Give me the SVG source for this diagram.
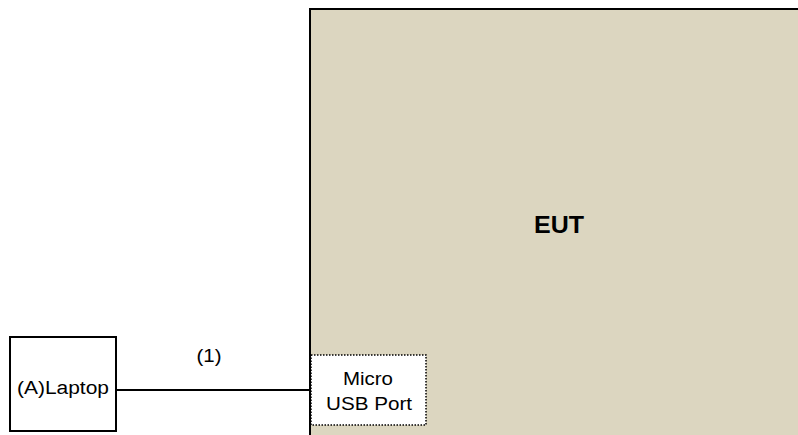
<svg xmlns="http://www.w3.org/2000/svg" width="798" height="435" viewBox="0 0 798 435">
<style>
text{font-family:"Liberation Sans",Arial,sans-serif;fill:#000;text-anchor:middle}
.lbl{font-size:18px}
</style>
<rect width="798" height="435" fill="#fff"/>
<g id="eut">
<rect x="310" y="9" width="492" height="432" fill="#DCD6C0" stroke="#000" stroke-width="2"/>
<text x="559" y="233" style="font-size:23.5px;font-weight:bold" textLength="50" lengthAdjust="spacingAndGlyphs">EUT</text>
</g>
<g id="usb">
<rect x="311" y="355" width="115" height="70" fill="#fff" stroke="#000" stroke-width="1.5" stroke-dasharray="1.5,1.5"/>
<text class="lbl" x="368" y="385" textLength="50" lengthAdjust="spacingAndGlyphs">Micro</text>
<text class="lbl" x="369" y="410" textLength="86" lengthAdjust="spacingAndGlyphs">USB Port</text>
</g>
<g id="laptop">
<rect x="10" y="337" width="106" height="94" fill="#fff" stroke="#000" stroke-width="2"/>
<text class="lbl" x="63" y="394" textLength="92" lengthAdjust="spacingAndGlyphs">(A)Laptop</text>
</g>
<g id="connectors">
<line x1="116" y1="390" x2="310" y2="390" stroke="#000" stroke-width="2"/>
<text class="lbl" x="209" y="362" textLength="25" lengthAdjust="spacingAndGlyphs">(1)</text>
</g>
</svg>
